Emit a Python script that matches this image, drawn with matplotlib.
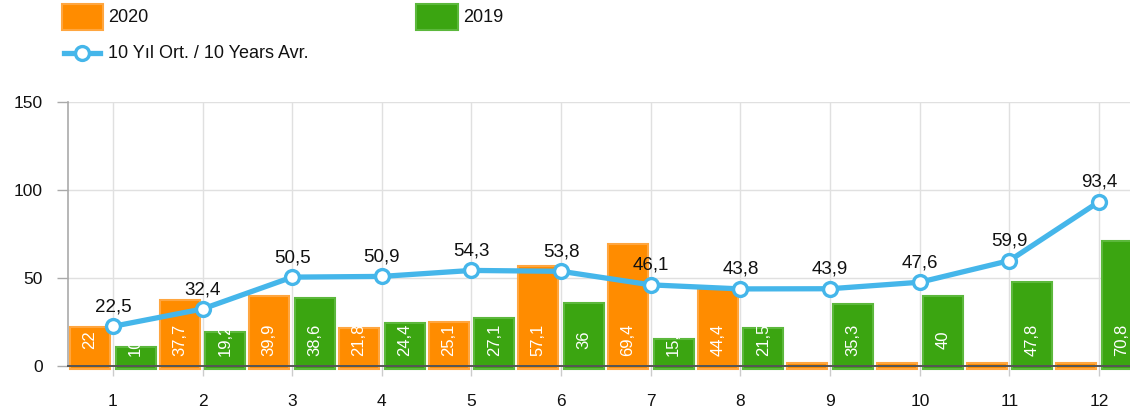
import matplotlib
matplotlib.use('Agg')
import matplotlib.pyplot as plt
import numpy as np
from matplotlib.patches import Rectangle
from matplotlib.lines import Line2D

# data
months = ['1', '2', '3', '4', '5', '6', '7', '8', '9', '10', '11', '12']
y2020 = [22, 37.7, 39.9, 21.8, 25.1, 57.1, 69.4, 44.4, 0, 0, 0, 0]
y2019 = [10.6, 19.2, 38.6, 24.4, 27.1, 36, 15.2, 21.5, 35.3, 40, 47.8, 70.8]
avg10 = [22.5, 32.4, 50.5, 50.9, 54.3, 53.8, 46.1, 43.8, 43.9, 47.6, 59.9, 93.4]

ORANGE = '#ff8c00'
ORANGE_EDGE = '#ffa640'
GREEN = '#3ba511'
GREEN_EDGE = '#5cb83c'
BLUE = '#45b6ea'

plt.rcParams['font.family'] = ['Liberation Sans', 'DejaVu Sans']

W, H = 1130, 413
fig = plt.figure(figsize=(W / 100, H / 100), dpi=100)


def fx(x):
    return x / W


def fy(y):
    return 1 - y / H


# axes extend past the right edge of the figure, like the original
ax = fig.add_axes([fx(68), fy(366), (1144 - 68) / W, (366 - 102) / H])

x = np.arange(1, len(months) + 1)
off = 0.255
bw = 0.445
base = -1.8  # bars start a little under the zero line


def fmt(v):
    return ('%g' % v).replace('.', ',')


def draw_bars(pos, vals, color, edge):
    # zero values still show as a thin stub
    shown = [v - base if v > 0 else 1.5 - base for v in vals]
    bars = ax.bar(pos, shown, bottom=base, width=bw, color=color,
                  edgecolor=edge, linewidth=1.5, zorder=2, clip_on=False)
    for b, v in zip(bars, vals):
        if v <= 0:
            continue
        t = ax.text(b.get_x() + b.get_width() / 2, 15, fmt(v), rotation=90,
                    ha='center', va='center', color='white', fontsize=12,
                    zorder=3)
        t.set_clip_path(b)
    return bars


draw_bars(x - off, y2020, ORANGE, ORANGE_EDGE)
draw_bars(x + off, y2019, GREEN, GREEN_EDGE)

ax.plot(x, avg10, color=BLUE, linewidth=3.8, marker='o', markersize=10,
        markerfacecolor='white', markeredgecolor=BLUE, markeredgewidth=2.4,
        zorder=5, clip_on=False)
for xi, v in zip(x, avg10):
    ax.annotate(fmt(v), (xi, v), xytext=(0, 14), textcoords='offset points',
                ha='center', va='center', fontsize=13.5, color='#111111',
                zorder=6)

ax.set_xlim(0.5, 12.5)
ax.set_ylim(0, 150)
ax.set_yticks([0, 50, 100, 150])
ax.set_xticks(x)
ax.set_xticklabels(months)
ax.tick_params(axis='x', length=7, width=1, color='#cccccc', pad=13,
               labelsize=12.5, labelcolor='#111111')
ax.tick_params(axis='y', length=8, width=1, color='#aaaaaa', pad=10,
               labelsize=12.5, labelcolor='#111111')
ax.grid(True, color='#e0e0e0', linewidth=1, zorder=0)
ax.set_axisbelow(True)
for s in ['top', 'right']:
    ax.spines[s].set_visible(False)
ax.spines['left'].set_color('#aaaaaa')
ax.spines['left'].set_linewidth(1.2)
ax.spines['bottom'].set_color('#555555')
ax.spines['bottom'].set_linewidth(1.4)
ax.spines['bottom'].set_zorder(4)

# legend drawn by hand in pixel positions
fig.add_artist(Rectangle((fx(62), fy(30)), fx(41), 26 / H, facecolor=ORANGE,
                         edgecolor=ORANGE_EDGE, linewidth=1.5,
                         transform=fig.transFigure))
fig.text(fx(108), fy(17), '2020', fontsize=13, va='center', color='#111111')
fig.add_artist(Rectangle((fx(416), fy(30)), fx(42), 26 / H, facecolor=GREEN,
                         edgecolor=GREEN_EDGE, linewidth=1.5,
                         transform=fig.transFigure))
fig.text(fx(463), fy(17), '2019', fontsize=13, va='center', color='#111111')
fig.add_artist(Line2D([fx(64), fx(100)], [fy(53), fy(53)], color=BLUE,
                      linewidth=3.8, transform=fig.transFigure))
fig.add_artist(Line2D([fx(82)], [fy(53)], marker='o', markersize=10,
                      markerfacecolor='white', markeredgecolor=BLUE,
                      markeredgewidth=2.4, transform=fig.transFigure))
fig.text(fx(108), fy(53), '10 Yıl Ort. / 10 Years Avr.', fontsize=13,
         va='center', color='#111111')

fig.savefig('out.png', dpi=100)
